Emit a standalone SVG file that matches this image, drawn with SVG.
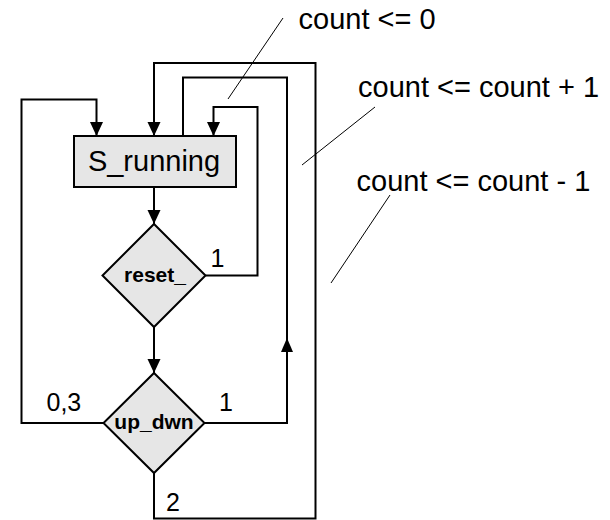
<svg xmlns="http://www.w3.org/2000/svg" width="610" height="520" viewBox="0 0 610 520">
  <style>
    .box { fill: #e6e6e6; stroke: #000; stroke-width: 2; }
    .wire { fill: none; stroke: #000; stroke-width: 2; stroke-linejoin: miter; }
    .lead { fill: none; stroke: #000; stroke-width: 1; }
    .txt { font-family: "Liberation Sans", Arial, sans-serif; font-size: 29px; fill: #000; }
    .lbl { font-family: "Liberation Sans", Arial, sans-serif; font-size: 25px; fill: #000; }
    .cond { font-family: "Liberation Sans", Arial, sans-serif; font-size: 21px; font-weight: bold; fill: #000; }
  </style>
  <defs>
    <marker id="arrow" markerUnits="userSpaceOnUse" markerWidth="14" markerHeight="14" viewBox="0 0 14 14" refX="14" refY="7" orient="auto">
      <path d="M0,0.5 L14,7 L0,13.5 Z" fill="#000"/>
    </marker>
  </defs>

  <!-- state box -->
  <g id="S_running">
    <rect class="box" x="74" y="136" width="162" height="51"/>
    <text class="txt" x="154" y="171" text-anchor="middle">S_running</text>
  </g>

  <!-- decision on reset_ -->
  <g id="reset_">
    <polygon class="box" points="154,224 205.5,275.5 154,327 102.5,275.5"/>
    <text class="cond" x="155" y="282" text-anchor="middle">reset_</text>
  </g>

  <!-- decision on up_dwn -->
  <g id="up_dwn">
    <polygon class="box" points="154,373 204.5,423 154,473 103.5,423"/>
    <text class="cond" x="154" y="429" text-anchor="middle">up_dwn</text>
  </g>

  <!-- transitions -->
  <g id="connectors">
    <path class="wire" d="M154,187 V224" marker-end="url(#arrow)"/>
    <path class="wire" d="M154,327 V373" marker-end="url(#arrow)"/>
    <path class="wire" d="M205.5,275.5 H257.5 V107 H213.5 V136" marker-end="url(#arrow)"/>
    <path class="wire" d="M204.5,423 H287 V77.5 H183 V136"/>
    <polygon points="287,338 281,352 293,352" fill="#000"/>
    <path class="wire" d="M103.5,423 H21.5 V99.5 H96.5 V136" marker-end="url(#arrow)"/>
    <path class="wire" d="M154,473 V518.5 H315.5 V63 H154 V136" marker-end="url(#arrow)"/>

    <text class="lbl" x="210.5" y="266.5">1</text>
    <text class="lbl" x="219" y="411">1</text>
    <text class="lbl" x="46.5" y="410.5">0,3</text>
    <text class="lbl" x="166" y="511">2</text>
  </g>

  <!-- action annotations -->
  <g id="notes">
    <line class="lead" x1="283" y1="18" x2="228" y2="99"/>
    <line class="lead" x1="375" y1="107" x2="302" y2="165"/>
    <line class="lead" x1="390" y1="195" x2="331" y2="283"/>
    <text class="txt" x="298.5" y="28.5">count &lt;= 0</text>
    <text class="txt" x="358" y="97">count &lt;= count + 1</text>
    <text class="txt" x="356.5" y="190.5">count &lt;= count - 1</text>
  </g>
</svg>
